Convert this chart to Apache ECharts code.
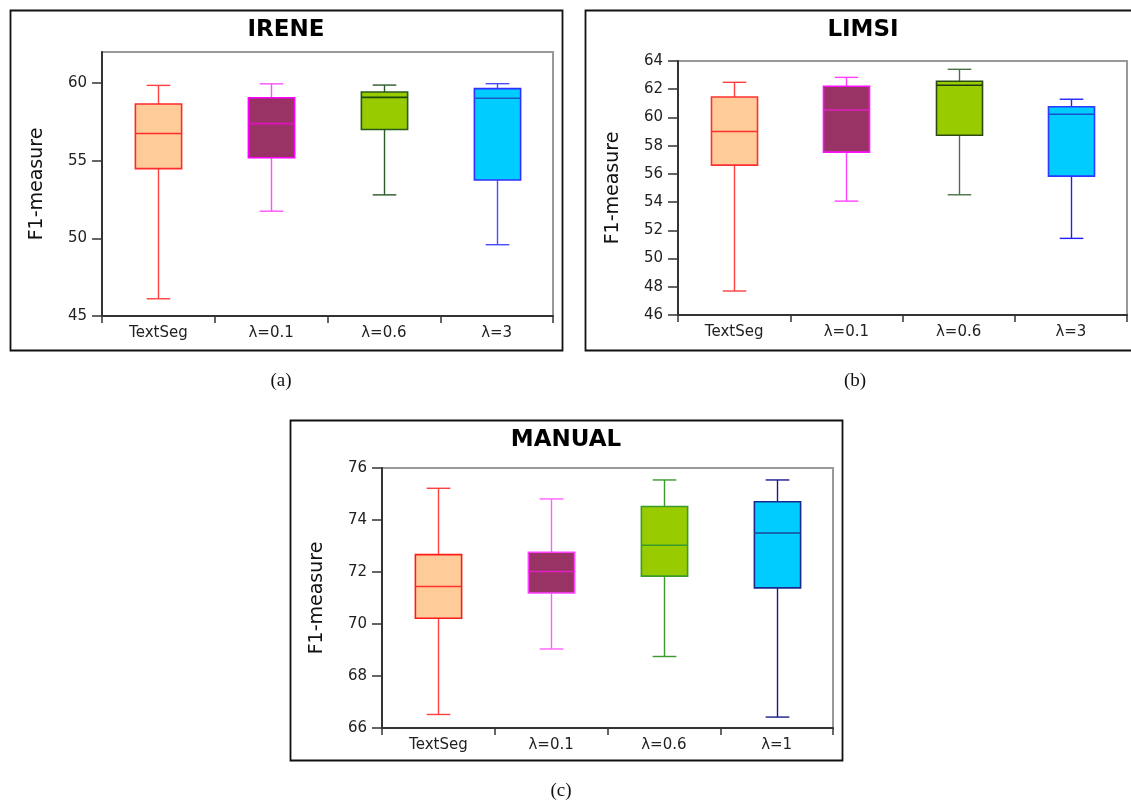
<!DOCTYPE html>
<html><head><meta charset="utf-8">
<script src="https://cdn.jsdelivr.net/npm/echarts@6/dist/echarts.min.js"></script>
<style>html,body{margin:0;padding:0;background:#fff}#c{width:1131px;height:803px}</style>
</head><body><div id="c"></div><script>
// ---- data ----
const categoriesIrene = ['TextSeg', 'λ=0.1', 'λ=0.6', 'λ=3'];
const categoriesLimsi = ['TextSeg', 'λ=0.1', 'λ=0.6', 'λ=3'];
const categoriesManual = ['TextSeg', 'λ=0.1', 'λ=0.6', 'λ=1'];
// each box: [lower whisker, Q1, median, Q3, upper whisker]
const ireneTextSeg = [46.11, 54.49, 56.75, 58.65, 59.85];
const ireneL01     = [51.75, 55.19, 57.39, 59.05, 59.95];
const ireneL06     = [52.80, 57.01, 59.08, 59.42, 59.87];
const ireneL3      = [49.59, 53.76, 59.02, 59.64, 59.96];
const limsiTextSeg = [47.70, 56.62, 59.00, 61.45, 62.49];
const limsiL01     = [54.07, 57.54, 60.53, 62.21, 62.84];
const limsiL06     = [54.52, 58.74, 62.28, 62.56, 63.41];
const limsiL3      = [51.43, 55.84, 60.23, 60.76, 61.29];
const manualTextSeg = [66.52, 70.22, 71.44, 72.67, 75.22];
const manualL01     = [69.04, 71.19, 72.02, 72.76, 74.81];
const manualL06     = [68.75, 71.84, 73.03, 74.52, 75.54];
const manualL1      = [66.42, 71.39, 73.50, 74.70, 75.54];
const yTicksIrene = [45, 50, 55, 60];
const yTicksLimsi = [46, 48, 50, 52, 54, 56, 58, 60, 62, 64];
const yTicksManual = [66, 68, 70, 72, 74, 76];
const titles = ['IRENE', 'LIMSI', 'MANUAL'];
const captions = ['(a)', '(b)', '(c)'];
const yName = 'F1-measure';

// ---- styles ----
const fills = ['#ffcc99', '#993366', '#99cc00', '#00ccff'];
const panelStyles = [
  { border: ['#ff2a2a', '#ff00ff', '#2a5a1a', '#3030ff'],
    whisker: ['#ff4040', '#ff50ff', '#2a5a2a', '#4a4aff'],
    median: ['#ff2a2a', '#e010c0', '#1f4a10', '#1a5ac8'] },
  { border: ['#ff3030', '#ff10ff', '#2a4a10', '#2a3aff'],
    whisker: ['#ff4040', '#ff40ff', '#4a704a', '#2020ff'],
    median: ['#ff3030', '#e020c0', '#1f3a10', '#1a50d0'] },
  { border: ['#ff1a1a', '#ff40ff', '#3a9a2a', '#1a2a8a'],
    whisker: ['#ff4040', '#ff60ff', '#3a9a2a', '#1a1a8a'],
    median: ['#ff3030', '#e020c0', '#3a9a2a', '#1a4a99'] }
];

const panels = [
  { cats: categoriesIrene, boxes: [ireneTextSeg, ireneL01, ireneL06, ireneL3], min: 45, max: 62, interval: 5, ticks: yTicksIrene,
    grid: { left: 102, top: 52, width: 451, height: 264 }, frame: [10.5, 10.5, 552, 340], titleX: 286, titleY: 19, cap: [281, 381] },
  { cats: categoriesLimsi, boxes: [limsiTextSeg, limsiL01, limsiL06, limsiL3], min: 46, max: 64, interval: 2, ticks: yTicksLimsi,
    grid: { left: 678, top: 61, width: 449, height: 254 }, frame: [585.5, 10.5, 600, 340], titleX: 863, titleY: 19, cap: [855, 381] },
  { cats: categoriesManual, boxes: [manualTextSeg, manualL01, manualL06, manualL1], min: 66, max: 76, interval: 2, ticks: yTicksManual,
    grid: { left: 382, top: 468, width: 451, height: 260 }, frame: [290.5, 420.5, 552, 340], titleX: 566, titleY: 429, cap: [561, 791] }
];

function makeRender(p) {
  return function (params, api) {
    const k = params.dataIndex;
    const st = panelStyles[p];
    const i = api.value(0);
    const lo = api.coord([i, api.value(1)]);
    const q1 = api.coord([i, api.value(2)])[1];
    const md = api.coord([i, api.value(3)])[1];
    const q3 = api.coord([i, api.value(4)])[1];
    const hi = api.coord([i, api.value(5)])[1];
    const cx = Math.round(lo[0]) + 0.5;
    const band = api.size([1, 0])[0];
    const bw = band * 0.41, cw = band * 0.21;
    const wl = { stroke: st.whisker[k], lineWidth: 1.4 };
    return { type: 'group', children: [
      { type: 'line', shape: { x1: cx, y1: hi, x2: cx, y2: q3 }, style: wl },
      { type: 'line', shape: { x1: cx, y1: q1, x2: cx, y2: lo[1] }, style: wl },
      { type: 'line', shape: { x1: cx - cw / 2, y1: hi, x2: cx + cw / 2, y2: hi }, style: wl },
      { type: 'line', shape: { x1: cx - cw / 2, y1: lo[1], x2: cx + cw / 2, y2: lo[1] }, style: wl },
      { type: 'rect', shape: { x: cx - bw / 2, y: q3, width: bw, height: q1 - q3 },
        style: { fill: fills[k], stroke: st.border[k], lineWidth: 1.6 } },
      { type: 'line', shape: { x1: cx - bw / 2, y1: md, x2: cx + bw / 2, y2: md },
        style: { stroke: st.median[k], lineWidth: 1.6 } }
    ]};
  };
}

const labelFont = { fontFamily: 'DejaVu Sans', fontSize: 15, color: '#222' };
const option = {
  backgroundColor: '#ffffff',
  animation: false,
  title: panels.map((p, idx) => ({
    text: titles[idx], left: p.titleX, top: p.titleY, textAlign: 'center', padding: 0,
    textStyle: { fontFamily: 'DejaVu Sans', fontWeight: 'bold', fontSize: 23, color: '#000' }
  })),
  grid: panels.map(p => Object.assign({ show: true, borderColor: '#999', borderWidth: 2, backgroundColor: '#fff' }, p.grid)),
  xAxis: panels.map((p, idx) => ({
    type: 'category', gridIndex: idx, data: p.cats, boundaryGap: true,
    axisLine: { lineStyle: { color: '#333', width: 2 } },
    axisTick: { show: true, alignWithLabel: false, length: 7, lineStyle: { color: '#333', width: 1.5 } },
    axisLabel: Object.assign({ margin: 10, interval: 0 }, labelFont),
    splitLine: { show: false }
  })),
  yAxis: panels.map((p, idx) => ({
    type: 'value', gridIndex: idx, min: p.min, max: p.max, interval: p.interval,
    name: yName, nameLocation: 'middle', nameGap: 55, nameRotate: 90,
    nameTextStyle: { fontFamily: 'DejaVu Sans', fontSize: 19, color: '#111' },
    axisLine: { show: true, lineStyle: { color: '#333', width: 2 } },
    axisTick: { show: true, length: 10, customValues: p.ticks, lineStyle: { color: '#333', width: 1.5 } },
    axisLabel: Object.assign({ margin: 15, customValues: p.ticks }, labelFont),
    splitLine: { show: false }
  })),
  series: panels.map((p, idx) => ({
    type: 'custom', xAxisIndex: idx, yAxisIndex: idx,
    renderItem: makeRender(idx),
    encode: { x: 0, y: [1, 2, 3, 4, 5] },
    data: p.boxes.map((b, i) => [i].concat(b)),
    z: 5
  })),
  graphic: panels.map((p, idx) => ([
    { type: 'rect', shape: { x: p.frame[0], y: p.frame[1], width: p.frame[2], height: p.frame[3] },
      style: { fill: 'none', stroke: '#111', lineWidth: 1.8 }, z: 100, silent: true },
    { type: 'text', x: p.cap[0], y: p.cap[1], style: { text: captions[idx], fontFamily: 'Liberation Serif', fontSize: 19, fill: '#111', align: 'center', verticalAlign: 'middle' }, z: 100 }
  ])).flat()
};
const chart = echarts.init(document.getElementById('c'));
chart.setOption(option);
</script></body></html>
